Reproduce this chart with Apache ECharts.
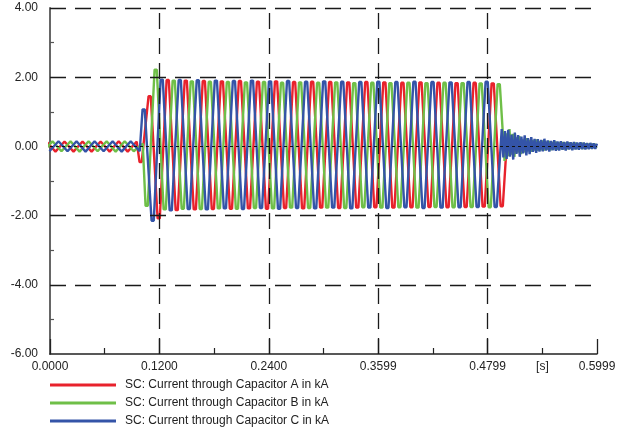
<!DOCTYPE html>
<html>
<head>
<meta charset="utf-8">
<script src="https://cdn.jsdelivr.net/npm/echarts@6/dist/echarts.min.js"></script>
<style>
  html, body { margin: 0; padding: 0; background: #ffffff; }
  #chart { width: 623px; height: 429px; }
</style>
</head>
<body>
<div id="chart"></div>
<script>
// ---- Capacitor bank switching: currents through capacitors A, B, C (kA) ----
const seriesNames = [
  'SC: Current through Capacitor A in kA',
  'SC: Current through Capacitor B in kA',
  'SC: Current through Capacitor C in kA'
];
const xTickLabels = ['0.0000', '0.1200', '0.2400', '0.3599', '0.4799', '0.5999'];
const yTickLabels = ['-6.00', '-4.00', '-2.00', '0.00', '2.00', '4.00'];
const xUnitLabel = '[s]';
const xUnitAt = 0.54;

// time step between successive extrema (s)
const HALF_CYCLE = 0.0099;   // 50 Hz system, half period
const RING_STEP = 0.0018;    // ringing after the bank is switched off

// Phase A: extrema before switching, while connected, and after switch-off
const preStartA = -0.0039;
const prePeaksA = [0.14, -0.15, 0.14, -0.15, 0.14, -0.15, 0.14, -0.15, 0.15, -0.15, 0.14];
const onStartA = 0.0994;
const onPeaksA = [-0.45, 1.45, -2.08, 1.92, -1.84, 1.90, -1.82, 1.89, -1.81, 1.88,
                  -1.80, 1.89, -1.79, 1.87, -1.80, 1.88, -1.78, 1.86, -1.79, 1.87,
                  -1.77, 1.86, -1.78, 1.85, -1.77, 1.86, -1.76, 1.85, -1.77, 1.84,
                  -1.76, 1.85, -1.75, 1.84, -1.76, 1.83, -1.75, 1.84, -1.74, 1.82, -1.73];
const offStartA = 0.5010;
const offPeaksA = [0.12, -0.08, 0.10, -0.07, 0.09, -0.06, 0.08, -0.06, 0.07, -0.05,
                   0.07, -0.05, 0.06, -0.04, 0.06, -0.04, 0.05, -0.04, 0.05, -0.03,
                   0.05, -0.03, 0.04, -0.03, 0.04, -0.03, 0.04, -0.02, 0.03, -0.02,
                   0.03, -0.02, 0.03, -0.02, 0.03, -0.02, 0.02, -0.02, 0.02, -0.02,
                   0.02, -0.01, 0.02, -0.01, 0.02, -0.01, 0.02, -0.01, 0.01, -0.01,
                   0.01, -0.01, 0.01, -0.01, 0.01];

// Phase B
const preStartB = -0.0072;
const prePeaksB = [-0.15, 0.15, -0.14, 0.15, -0.15, 0.15, -0.14, 0.15, -0.15, 0.15, -0.14, 0.08];
const onStartB = 0.1060;
const onPeaksB = [-1.72, 2.22, -1.82, 1.90, -1.80, 1.88, -1.81, 1.87, -1.79, 1.86,
                  -1.80, 1.85, -1.78, 1.86, -1.79, 1.84, -1.77, 1.85, -1.78, 1.84,
                  -1.77, 1.85, -1.78, 1.83, -1.76, 1.84, -1.77, 1.83, -1.76, 1.84,
                  -1.77, 1.83, -1.75, 1.84, -1.76, 1.83, -1.75, 1.82, -1.76, 1.80];
const offStartB = 0.4985;
const offPeaksB = [-0.42, 0.38, -0.28, 0.50, -0.24, 0.36, -0.30, 0.26, -0.18, 0.30,
                   -0.22, 0.20, -0.17, 0.24, -0.14, 0.19, -0.16, 0.18, -0.12, 0.20,
                   -0.13, 0.15, -0.11, 0.17, -0.12, 0.14, -0.10, 0.16, -0.11, 0.13,
                   -0.09, 0.14, -0.10, 0.12, -0.08, 0.13, -0.09, 0.11, -0.08, 0.12,
                   -0.07, 0.10, -0.08, 0.11, -0.07, 0.09, -0.06, 0.10, -0.07, 0.09,
                   -0.06, 0.08, -0.06, 0.08, -0.05, 0.07, -0.05];

// Phase C
const preStartC = -0.0006;
const prePeaksC = [-0.14, 0.15, -0.14, 0.15, -0.15, 0.15, -0.14, 0.15, -0.15, 0.15, -0.14];
const onStartC = 0.1027;
const onPeaksC = [1.07, -2.15, 1.93, -1.85, 1.92, -1.81, 1.91, -1.82, 1.90, -1.79,
                  1.89, -1.81, 1.90, -1.78, 1.88, -1.80, 1.89, -1.78, 1.87, -1.79,
                  1.88, -1.77, 1.87, -1.79, 1.86, -1.77, 1.87, -1.78, 1.86, -1.76,
                  1.87, -1.78, 1.86, -1.77, 1.85, -1.76, 1.86, -1.75, 1.87, -1.75];
const offStartC = 0.4954;
const offPeaksC = [0.50, -0.32, 0.44, -0.36, 0.48, -0.30, 0.34, -0.38, 0.40, -0.22,
                   0.33, -0.30, 0.28, -0.20, 0.32, -0.26, 0.24, -0.22, 0.27, -0.16,
                   0.22, -0.19, 0.21, -0.15, 0.19, -0.14, 0.22, -0.12, 0.17, -0.15,
                   0.16, -0.11, 0.18, -0.13, 0.14, -0.12, 0.15, -0.10, 0.13, -0.12,
                   0.14, -0.09, 0.12, -0.11, 0.13, -0.09, 0.11, -0.10, 0.12, -0.08,
                   0.11, -0.09, 0.10, -0.08, 0.10, -0.07, 0.09, -0.07, 0.08];

const colors = ['#e8222c', '#6fbf48', '#3454a8'];
const FONT = "'Liberation Sans', Arial, sans-serif";

// Turns a run of extrema into [time, value] vertices; while the bank is
// connected each crest is drawn with a short flat top.
function trace(start, step, values, hold) {
  const pts = [];
  values.forEach((v, k) => {
    const t = start + k * step;
    if (hold > 0) {
      pts.push([t - hold, v], [t + hold, v]);
    } else {
      pts.push([t, v]);
    }
  });
  return pts;
}
const HOLD = 0.0012;

const phaseData = [
  [...trace(preStartA, HALF_CYCLE, prePeaksA, 0), ...trace(onStartA, HALF_CYCLE, onPeaksA, HOLD), ...trace(offStartA, RING_STEP, offPeaksA, 0)],
  [...trace(preStartB, HALF_CYCLE, prePeaksB, 0), ...trace(onStartB, HALF_CYCLE, onPeaksB, HOLD), ...trace(offStartB, RING_STEP, offPeaksB, 0)],
  [...trace(preStartC, HALF_CYCLE, prePeaksC, 0), ...trace(onStartC, HALF_CYCLE, onPeaksC, HOLD), ...trace(offStartC, RING_STEP, offPeaksC, 0)]
];

const X_MAX = 0.5999;
const X_STEP = X_MAX / 5;
const Y_MIN = -6, Y_MAX = 4, Y_STEP = 2;

const dashed = { color: '#1a1a1a', width: 1.3, type: [16, 9] };
const gridLines = [];
[4, 2, -2, -4].forEach(v => gridLines.push({ yAxis: v, lineStyle: dashed }));
gridLines.push({ yAxis: 0, lineStyle: { color: '#111', width: 1, type: [3, 3] } });
for (let i = 1; i <= 5; i++) gridLines.push({ xAxis: +(i * X_STEP).toFixed(5), lineStyle: dashed });

const chart = echarts.init(document.getElementById('chart'), null, { renderer: 'canvas' });

const series = phaseData.map((d, i) => ({
  name: seriesNames[i],
  type: 'line',
  data: d,
  showSymbol: false,
  symbol: 'none',
  lineStyle: { color: colors[i], width: 2.4 },
  itemStyle: { color: colors[i] },
  silent: true,
  z: 2 + i
}));
series.push({
  type: 'line',
  data: [],
  silent: true,
  clip: false,
  z: 10,
  markLine: {
    silent: true,
    symbol: 'none',
    label: { show: false },
    animation: false,
    data: gridLines
  }
});

chart.setOption({
  animation: false,
  backgroundColor: '#ffffff',
  grid: { left: 50, right: 26, top: 8, bottom: 75, containLabel: false },
  legend: {
    data: seriesNames,
    orient: 'vertical',
    left: 50,
    top: 379,
    padding: 0,
    itemWidth: 66,
    itemHeight: 3,
    itemGap: 6,
    icon: 'rect',
    selectedMode: false,
    textStyle: { fontFamily: FONT, fontSize: 12, color: '#222', padding: [0, 0, 0, 4] }
  },
  xAxis: {
    type: 'value',
    min: 0,
    max: X_MAX,
    interval: X_STEP,
    axisLine: { show: true, onZero: false, lineStyle: { color: '#222', width: 1.5 } },
    axisTick: { show: true, inside: true, length: 15, lineStyle: { color: '#222', width: 1.3 } },
    minorTick: { show: true, splitNumber: 2, length: 6, lineStyle: { color: '#222', width: 1.2 } },
    splitLine: { show: false },
    axisLabel: {
      fontFamily: FONT, fontSize: 12, color: '#222', margin: 7,
      formatter: v => xTickLabels[Math.round(v / X_STEP)] ?? ''
    }
  },
  yAxis: {
    type: 'value',
    min: Y_MIN,
    max: Y_MAX,
    interval: Y_STEP,
    axisLine: { show: true, onZero: false, lineStyle: { color: '#666', width: 2 } },
    axisTick: { show: false, inside: true },
    minorTick: { show: true, splitNumber: 2, length: 4, lineStyle: { color: '#555', width: 1.2 } },
    splitLine: { show: false },
    axisLabel: {
      fontFamily: FONT, fontSize: 12, color: '#222', margin: 12,
      formatter: v => yTickLabels[Math.round((v - Y_MIN) / Y_STEP)] ?? ''
    }
  },
  series: series
});

// unit label placed among the time-axis tick labels
const unitPos = chart.convertToPixel({ xAxisIndex: 0, yAxisIndex: 0 }, [xUnitAt, Y_MIN]);
chart.setOption({
  graphic: [{
    type: 'text',
    x: unitPos[0],
    y: unitPos[1] + 13,
    style: { text: xUnitLabel, fontFamily: FONT, fontSize: 12, fill: '#222', align: 'center', verticalAlign: 'middle' }
  }]
});
</script>
</body>
</html>
